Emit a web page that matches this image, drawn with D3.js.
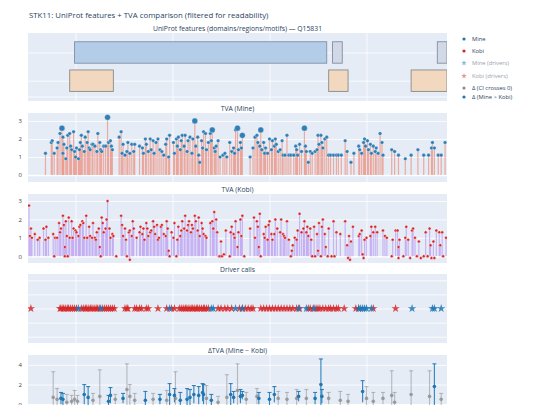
<!DOCTYPE html>
<html><head><meta charset="utf-8">
<script src="https://cdn.jsdelivr.net/npm/d3@7"></script>
<style>body{margin:0;background:#fff}svg{font-family:"Open Sans",Arial,sans-serif}</style>
</head><body><svg id="c" width="540" height="405"></svg>
<script>
const chartTitle = "STK11: UniProt features + TVA comparison (filtered for readability)";
const panelTitles = ["UniProt features (domains/regions/motifs) — Q15831","TVA (Mine)","TVA (Kobi)","Driver calls","ΔTVA (Mine − Kobi)"];
const xGridTicks = [50,150,250,350];
// features: [start, end, row, type]
const features = [[49,309,0,"domain"],[315,325,0,"motif"],[423,433,0,"motif"],[44,89,1,"region"],[311,331,1,"region"],[396,433,1,"region"]];
// TVA Mine: [position, value]
const minePos = [19,25,26,28,31,32,34,36,37,37,38,40,41,42,44,45,46,48,49,50,51,53,54,55,56,57,59,60,62,63,64,65,67,68,70,72,73,75,76,77,79,81,83,84,86,87,88,95,97,98,99,101,103,104,106,108,110,111,116,119,120,122,123,125,127,128,130,131,133,135,137,139,141,143,144,146,147,151,152,154,155,156,158,159,160,162,163,165,166,168,170,171,173,174,176,177,178,180,181,182,184,185,187,189,190,191,193,194,195,197,199,202,204,206,209,211,213,214,215,217,218,220,221,222,230,233,235,237,238,240,241,242,244,245,246,248,250,252,253,255,256,257,259,261,263,264,266,268,270,272,275,277,278,279,281,283,286,287,288,290,292,294,297,299,300,301,303,304,305,307,309,311,313,316,319,321,324,328,330,334,337,342,343,345,347,348,349,351,352,354,355,357,359,360,362,364,366,367,376,379,383,390,396,403,409,414,417,418,420,424,427,431];
const mineVal = [1.2,1.8,1.9,1.2,1.5,1.8,2.3,2.6,2.1,1.2,1.7,0.9,1.5,2.2,2.3,1.6,1.4,2.4,1.3,1.0,1.5,0.9,1.4,1.8,2.2,1.6,1.3,2.1,1.8,2.4,1.5,1.4,1.7,1.7,1.6,1.3,2.3,1.8,1.4,1.3,1.6,1.6,3.2,1.8,1.9,1.6,1.4,2.1,2.4,1.2,1.7,1.1,1.3,1.8,1.2,1.7,1.3,1.7,1.6,1.5,1.2,2.0,1.7,1.3,2.0,1.4,1.9,1.2,1.8,2.0,1.4,1.3,1.1,1.7,2.0,1.0,2.2,1.8,1.2,2.0,1.6,2.1,1.4,1.9,2.2,1.6,2.2,1.3,1.9,2.1,1.2,2.0,3.0,1.6,2.1,1.1,0.7,1.9,1.5,2.4,2.3,1.4,1.8,2.3,1.9,2.5,1.5,1.3,1.6,1.9,1.0,1.1,1.2,1.0,1.8,1.3,1.5,1.2,2.5,2.6,1.4,1.8,1.5,2.2,1.0,1.5,2.1,2.2,1.8,1.6,2.5,1.4,1.8,1.2,1.5,1.2,2.0,1.4,1.9,1.6,2.0,1.7,1.3,1.4,1.9,1.1,1.1,2.2,1.1,1.1,1.1,1.6,1.4,1.1,1.7,1.3,2.6,1.6,1.3,0.7,1.3,1.2,1.3,1.4,2.2,1.7,2.2,1.8,1.5,2.0,2.1,1.1,1.1,1.1,1.1,1.1,1.1,1.9,1.3,0.7,1.2,1.6,1.4,1.2,1.8,2.0,1.6,1.9,1.4,1.7,1.2,1.6,1.3,1.5,1.2,2.3,1.8,1.1,1.4,1.3,1.1,0.9,1.1,1.4,1.1,1.1,1.5,1.8,1.5,1.1,1.1,1.8];
const mineBig = [36,83,173,217,222,241,191,286];
const kobiPos = [2,3,4,5,8,11,13,17,19,20,22,27,28,29,31,33,34,35,37,38,39,39,40,41,42,43,44,46,47,48,50,51,53,54,55,57,58,59,61,62,64,65,67,68,70,71,72,74,75,76,77,78,79,81,82,83,85,86,88,89,92,97,98,99,101,102,103,105,106,106,108,109,110,113,116,117,119,120,121,123,124,125,127,128,130,131,132,134,135,136,138,139,141,143,144,145,146,147,149,151,152,154,155,156,158,159,160,162,163,165,166,167,169,170,171,173,174,176,177,178,180,181,182,184,185,189,191,192,193,195,196,198,199,200,201,203,205,209,210,211,213,214,215,217,218,220,221,222,224,230,234,235,237,238,239,240,241,244,245,246,248,249,250,252,253,255,256,258,261,262,264,265,266,268,270,272,273,274,276,278,279,281,283,285,286,288,289,290,292,293,294,296,297,299,300,301,303,304,305,307,308,310,311,314,316,317,319,323,328,330,331,332,333,334,336,342,343,345,346,347,348,350,354,355,357,359,361,367,369,371,376,377,380,382,383,383,384,388,390,391,393,395,397,398,400,402,404,406,409,411,413,415,416,417,419,420,422,425,426,428,429,432];
const kobiVal = [2.75,1.1,1.5,1.0,1.2,0.9,1.0,1.5,0.9,1.6,1.0,1.2,0,1.0,1.0,1.8,1.3,1.5,2.2,1.7,0.5,0,1.9,1.1,0,2.1,1.0,1.9,1.0,1.5,1.4,1.3,1.1,1.6,1.7,1.9,1.8,1.0,2.2,1.0,1.6,1.1,1.0,1.8,1.0,0.9,1.3,1.5,0.5,0,2.1,1.8,1.3,1.5,2.0,3.0,1.5,1.0,1.2,1.1,0,2.2,1.7,1.1,1.5,0.9,0,1.3,-0.2,1.4,1.1,1.9,1.5,1.0,1.3,1.6,1.2,1.5,0.9,1.8,1.5,1.1,1.3,1.4,1.9,1.6,1.2,1.7,0.9,1.0,1.6,1.7,1.2,1.1,1.9,1.5,0.3,0,1.3,1.0,1.8,0,0.9,1.6,1.1,1.4,1.9,1.5,2.2,1.4,1.7,1.9,1.3,1.7,1.5,2.2,1.9,1.4,2.1,1.1,1.8,1.5,1.2,1.1,1.0,1.8,1.9,1.5,2.4,2.0,1.3,0,0,0.8,0,0.1,1.4,0,1.3,1.6,1.2,1.0,1.9,0.5,1.3,2.0,1.1,2.2,0,1.5,2.1,1.0,1.9,1.6,0.5,2.3,0,1.2,1.0,1.6,0.9,1.7,1.9,1.2,0.9,1.2,2.0,1.5,1.3,2.0,1.2,1.1,1.0,1.9,0.9,0,0.3,0.6,1.0,0.9,1.4,2.3,1.3,1.5,1.9,1.3,1.6,1.1,1.5,0.9,0,1.6,0,1.2,0.3,1.8,0,1.6,2.0,1.2,0.5,0,1.5,0,1.9,0,1.3,1.2,1.9,0.6,-0.1,1.1,-0.2,0.8,1.6,1.1,1.2,1.4,0.1,-0.1,0.9,1.0,1.1,1.6,1.3,1.6,1.3,1.4,1.1,1.0,0,0.9,1.4,1.4,0.5,-0.1,0.9,0,1.0,1.6,0.9,-0.1,1.4,1.5,1.0,0,0.8,-0.1,0,1.3,0,1.5,0.6,-0.1,0.8,-0.1,1.4,1.3,0.6,1.3,0,1.0];
// driver calls
const kobiDrivers = [4,34,35,37,38,40,42,43,45,47,49,51,56,58,60,61,63,65,66,68,70,72,73,75,78,80,82,84,86,88,90,101,103,104,111,113,116,118,123,125,135,144,149,152,157,159,161,163,164,166,168,170,171,173,175,176,178,180,182,183,185,187,197,200,204,207,211,219,222,225,228,231,233,241,244,247,250,253,256,259,262,265,268,271,274,278,281,290,292,295,298,300,302,305,308,311,313,316,319,321,327,339,342,357,380];
const mineDrivers = [53,76,147,190,192,215,222,280,288,296,342,344,346,348,350,355,397,418,420,427];
// delta TVA: position, value, half-width of CI, significant flag (1 = Mine > Kobi)
const dPos = [27,31,35,37,41,46,49,52,59,63,68,75,84,86,91,99,103,106,111,122,130,137,144,147,152,153,158,165,168,172,177,181,182,185,190,197,206,210,213,217,220,222,226,237,239,250,255,259,268,278,280,288,297,303,304,311,323,331,346,350,357,367,376,379,396,415,420,427];
const dVal = [0.7,0.5,0.6,0.5,0.2,0.3,0.5,0.3,1.0,0.7,0.4,0.8,0.3,0.9,0.5,0.6,1.5,0.8,0.4,0.4,0.5,0.5,0.4,1.0,0.9,0.6,0.4,0.5,0.7,1.0,0.9,1.2,1.0,0.6,0.4,0.2,0.7,1.0,0.7,1.4,0.8,0.9,0.5,0.8,0.6,0.5,1.0,0.6,0.5,0.6,0.8,0.6,0.6,2.0,0.8,0.6,0.4,0.3,1.3,0.6,0.3,0.6,0.9,0.2,1.0,0.8,1.8,0.5];
const dErr = [2.6,1.1,0.6,0.6,0.8,0.6,0.9,0.6,1.0,1.1,0.7,2.7,0.6,0.8,0.5,0.5,2.6,1.2,0.7,0.9,0.6,0.5,1.0,1.1,0.7,2.7,0.8,1.1,0.8,0.9,0.9,0.9,1.0,1.3,0.6,0.6,2.3,1.1,0.6,2.7,0.7,0.4,0.7,0.8,0.6,0.7,0.8,0.7,0.7,0.9,0.5,0.9,0.6,2.6,0.7,0.6,0.9,0.7,1.1,1.2,0.9,0.6,2.5,1.0,2.4,2.6,2.3,0.6];
const dSig = [0,0,1,1,0,0,0,0,1,1,0,0,1,1,0,1,0,0,0,1,0,1,0,1,1,0,1,1,1,1,1,1,1,0,1,0,0,1,1,0,1,1,0,0,1,1,1,0,0,0,1,0,1,1,1,0,0,0,1,0,0,0,0,0,0,0,1,0];
const legendItems = [["Mine","#1f77b4","dot"],["Kobi","#d62728","dot"],["Mine (drivers)","#8fb9dd","star"],["Kobi (drivers)","#eb9394","star"],["Δ (CI crosses 0)","#8c8c8c","dot"],["Δ (Mine > Kobi)","#1f77b4","dot"]];

const svg = d3.select("#c");
const L=28, R=447;
const x = d3.scaleLinear().domain([1,433]).range([L,R]);
const panels = [[33,101],[113,182],[194,263],[274,343],[355,425]];
const clipId = i=>"cl"+i;
const defs = svg.append("defs");
panels.forEach((p,i)=>{defs.append("clipPath").attr("id",clipId(i)).append("rect").attr("x",L).attr("y",p[0]).attr("width",R-L).attr("height",p[1]-p[0]);});
svg.append("text").attr("x",29).attr("y",18).attr("font-size",7.8).attr("fill","#2a3f5f").text(chartTitle);
const ys = [
  d3.scaleLinear().domain([-0.69,1.72]).range([33,101]),
  d3.scaleLinear().domain([-0.39,3.44]).range([182,113]),
  d3.scaleLinear().domain([-0.37,3.38]).range([263,194]),
  d3.scaleLinear().domain([-2.45,2.45]).range([343,274]),
  d3.scaleLinear().domain([-2.1,5.0]).range([425,355])
];
const yGrid = [[0,1,1.56],[0,1,2,3],[0,1,2,3],[-2,-1,0,1,2],[0,2,4]];
const yLabels = [false,true,true,false,true];
panels.forEach((p,i)=>{
  const g = svg.append("g");
  g.append("rect").attr("x",L).attr("y",p[0]).attr("width",R-L).attr("height",p[1]-p[0]).attr("fill","#e5ecf6");
  g.append("g").attr("transform",`translate(0,${p[1]})`).call(d3.axisBottom(x).tickValues(xGridTicks).tickSize(-(p[1]-p[0])).tickFormat(""))
    .call(a=>{a.select(".domain").remove();a.selectAll("line").attr("stroke","#fff").attr("stroke-width",0.8);});
  const ay = g.append("g").attr("transform",`translate(${L},0)`).call(d3.axisLeft(ys[i]).tickValues(yGrid[i]).tickSize(-(R-L)).tickPadding(6).tickFormat(yLabels[i]?d3.format("d"):""));
  ay.select(".domain").remove();
  ay.selectAll("line").attr("stroke","#fff").attr("stroke-width",d=>(i==1||i==2||i==4)&&d===0?1.6:0.8);
  ay.selectAll("text").attr("font-size",6).attr("fill","#444").attr("font-family","Open Sans");
  svg.append("text").attr("x",(L+R)/2).attr("y",p[0]-2.5).attr("text-anchor","middle").attr("font-size",6.8).attr("fill","#2a3f5f").text(panelTitles[i]);
});
// features
const fCol = {domain:["#b3cde8","#7f8fa6"],motif:["#d3d8e6","#7f8fa6"],region:["#f1d8bf","#8a8a8a"]};
svg.append("g").attr("clip-path",`url(#${clipId(0)})`).selectAll("rect").data(features).join("rect")
  .attr("x",d=>x(d[0])).attr("width",d=>x(d[1])-x(d[0]))
  .attr("y",d=>ys[0](d[2]-0.38)).attr("height",d=>ys[0](d[2]+0.38)-ys[0](d[2]-0.38))
  .attr("fill",d=>fCol[d[3]][0]).attr("stroke",d=>fCol[d[3]][1]).attr("stroke-width",0.9);
// Mine
const mine = minePos.map((p,i)=>({p,v:mineVal[i],big:mineBig.includes(p)}));
const gm = svg.append("g").attr("clip-path",`url(#${clipId(1)})`);
gm.selectAll("line").data(mine).join("line").attr("x1",d=>x(d.p)).attr("x2",d=>x(d.p)).attr("y1",ys[1](0)).attr("y2",d=>ys[1](d.v))
  .attr("stroke","#ee8672").attr("stroke-opacity",0.65).attr("stroke-width",1.2);
gm.selectAll("circle").data(mine).join("circle").attr("cx",d=>x(d.p)).attr("cy",d=>ys[1](d.v)).attr("r",d=>d.big?2.9:1.8)
  .attr("fill","#2f7fb6").attr("stroke","#fff").attr("stroke-width",0.3);
// Kobi
const kobi = kobiPos.map((p,i)=>({p,v:kobiVal[i]}));
const gk = svg.append("g").attr("clip-path",`url(#${clipId(2)})`);
gk.selectAll("line").data(kobi).join("line").attr("x1",d=>x(d.p)).attr("x2",d=>x(d.p)).attr("y1",ys[2](0)).attr("y2",d=>ys[2](d.v))
  .attr("stroke","#b48cf2").attr("stroke-opacity",0.6).attr("stroke-width",1.2);
gk.selectAll("circle").data(kobi).join("circle").attr("cx",d=>x(d.p)).attr("cy",d=>ys[2](d.v)).attr("r",1.5)
  .attr("fill","#d62728").attr("stroke","#fff").attr("stroke-width",0.4);
// drivers
const star = d3.symbol().type(d3.symbolStar).size(22);
const gd = svg.append("g").attr("clip-path",`url(#${clipId(3)})`);
gd.selectAll("path.k").data(kobiDrivers).join("path").attr("class","k").attr("d",star).attr("transform",d=>`translate(${x(d)},${ys[3](0)})`).attr("fill","#d62728").attr("fill-opacity",0.85);
gd.selectAll("path.m").data(mineDrivers).join("path").attr("class","m").attr("d",star).attr("transform",d=>`translate(${x(d)},${ys[3](0)})`).attr("fill","#1f77b4").attr("fill-opacity",0.85);
// delta
const dd = dPos.map((p,i)=>({p,v:dVal[i],e:dErr[i],s:dSig[i]})).sort((a,b)=>a.s-b.s);
const ge = svg.append("g").attr("clip-path",`url(#${clipId(4)})`);
const col = d=>d.s?"#1f77b4":"#8c8c8c";
const op = d=>d.s?0.9:0.55;
ge.selectAll("line.v").data(dd).join("line").attr("class","v").attr("x1",d=>x(d.p)).attr("x2",d=>x(d.p)).attr("y1",d=>ys[4](d.v-d.e)).attr("y2",d=>ys[4](d.v+d.e)).attr("stroke",col).attr("stroke-opacity",op).attr("stroke-width",1.1);
ge.selectAll("line.c").data(dd).join("line").attr("class","c").attr("x1",d=>x(d.p)-2).attr("x2",d=>x(d.p)+2).attr("y1",d=>ys[4](d.v+d.e)).attr("y2",d=>ys[4](d.v+d.e)).attr("stroke",col).attr("stroke-opacity",op).attr("stroke-width",1.1);
ge.selectAll("circle").data(dd).join("circle").attr("cx",d=>x(d.p)).attr("cy",d=>ys[4](d.v)).attr("r",1.8).attr("fill",col).attr("fill-opacity",d=>d.s?1:0.8);
// legend
const ly = [39,51,63,76,88,97];
const lg = svg.append("g");
legendItems.forEach((it,i)=>{
  const g = lg.append("g").attr("transform",`translate(464,${ly[i]})`);
  if(it[2]==="dot") g.append("circle").attr("r",1.6).attr("fill",it[1]);
  else g.append("path").attr("d",d3.symbol().type(d3.symbolStar).size(10)).attr("fill",it[1]);
  g.append("text").attr("x",8).attr("y",2.2).attr("font-size",5.8).attr("fill",i==2||i==3?"#9aa0aa":"#2a3f5f").text(it[0]);
});
</script></body></html>
